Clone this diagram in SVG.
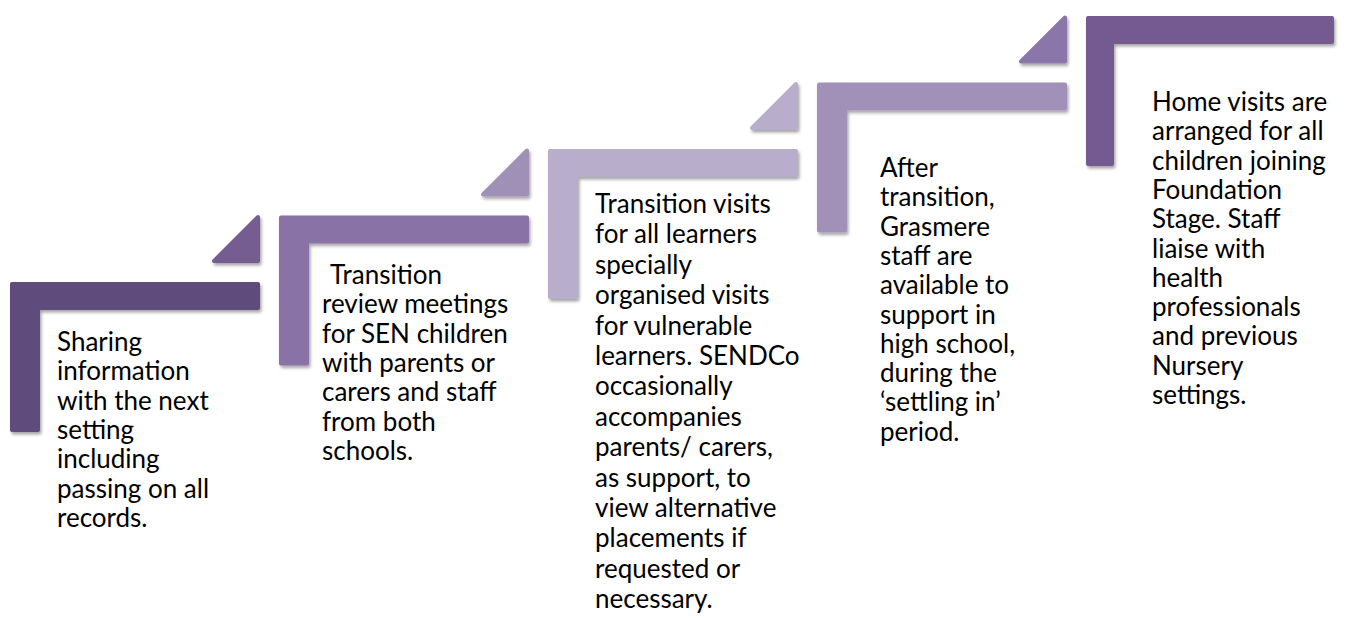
<svg xmlns="http://www.w3.org/2000/svg" width="1350" height="619" viewBox="0 0 1350 619">
<defs>
<filter id="sh" x="-10%" y="-10%" width="130%" height="130%">
<feDropShadow dx="1.5" dy="2.5" stdDeviation="1.6" flood-color="#000" flood-opacity="0.35"/>
</filter>
<style>
.shape{stroke-width:4;stroke-linejoin:round;filter:url(#sh)}
.c1{fill:#5F4B7B;stroke:#5F4B7B}
.c1t{fill:#745C91;stroke:#745C91}
.c2{fill:#8872A6;stroke:#8872A6}
.c2t{fill:#A090B8;stroke:#A090B8}
.c3{fill:#B8ADCA;stroke:#B8ADCA}
.c3t{fill:#B8ADCA;stroke:#B8ADCA}
.c4{fill:#A191B9;stroke:#A191B9}
.c4t{fill:#8A76A8;stroke:#8A76A8}
.c5{fill:#745A91;stroke:#745A91}
text{font-family:Lato,"Liberation Sans",sans-serif;font-size:26px;fill:#000}
</style>
</defs>
<rect width="1350" height="619" fill="#fff"/>

<g id="step1">
<path class="shape c1" d="M12,284 H258 V308 H38 V430 H12 Z"/>
<path class="shape c1t" d="M258,217 V261 H214 Z"/>
<text x="57" y="351">
<tspan x="57">Sharing</tspan>
<tspan x="57" dy="29.3">information</tspan>
<tspan x="57" dy="29.3">with the next</tspan>
<tspan x="57" dy="29.3">setting</tspan>
<tspan x="57" dy="29.3">including</tspan>
<tspan x="57" dy="29.3">passing on all</tspan>
<tspan x="57" dy="29.3">records.</tspan>
</text>
</g>

<g id="step2">
<path class="shape c2" d="M281,217.5 H527 V241.5 H307 V363.5 H281 Z"/>
<path class="shape c2t" d="M527,150.5 V194.5 H483 Z"/>
<text x="322" y="284">
<tspan x="330">Transition</tspan>
<tspan x="322" dy="29.3">review meetings</tspan>
<tspan x="322" dy="29.3">for SEN children</tspan>
<tspan x="322" dy="29.3">with parents or</tspan>
<tspan x="322" dy="29.3">carers and staff</tspan>
<tspan x="322" dy="29.3">from both</tspan>
<tspan x="322" dy="29.3">schools.</tspan>
</text>
</g>

<g id="step3">
<path class="shape c3" d="M550,151 H796 V175 H576 V297 H550 Z"/>
<path class="shape c3t" d="M796,84 V128 H752 Z"/>
<text x="595" y="213">
<tspan x="595">Transition visits</tspan>
<tspan x="595" dy="30.4">for all learners</tspan>
<tspan x="595" dy="30.4">specially</tspan>
<tspan x="595" dy="30.4">organised visits</tspan>
<tspan x="595" dy="30.4">for vulnerable</tspan>
<tspan x="595" dy="30.4">learners. SENDCo</tspan>
<tspan x="595" dy="30.4">occasionally</tspan>
<tspan x="595" dy="30.4">accompanies</tspan>
<tspan x="595" dy="30.4">parents/ carers,</tspan>
<tspan x="595" dy="30.4">as support, to</tspan>
<tspan x="595" dy="30.4">view alternative</tspan>
<tspan x="595" dy="30.4">placements if</tspan>
<tspan x="595" dy="30.4">requested or</tspan>
<tspan x="595" dy="30.4">necessary.</tspan>
</text>
</g>

<g id="step4">
<path class="shape c4" d="M819,84.5 H1065 V108.5 H845 V230.5 H819 Z"/>
<path class="shape c4t" d="M1065,17.5 V61.5 H1021 Z"/>
<text x="880" y="177">
<tspan x="880">After</tspan>
<tspan x="880" dy="29.3">transition,</tspan>
<tspan x="880" dy="29.3">Grasmere</tspan>
<tspan x="880" dy="29.3">staff are</tspan>
<tspan x="880" dy="29.3">available to</tspan>
<tspan x="880" dy="29.3">support in</tspan>
<tspan x="880" dy="29.3">high school,</tspan>
<tspan x="880" dy="29.3">during the</tspan>
<tspan x="880" dy="29.3">‘settling in’</tspan>
<tspan x="880" dy="29.3">period.</tspan>
</text>
</g>

<g id="step5">
<path class="shape c5" d="M1088,18 H1332 V42 H1112 V164 H1088 Z"/>
<text x="1152" y="111">
<tspan x="1152">Home visits are</tspan>
<tspan x="1152" dy="29.3">arranged for all</tspan>
<tspan x="1152" dy="29.3">children joining</tspan>
<tspan x="1152" dy="29.3">Foundation</tspan>
<tspan x="1152" dy="29.3">Stage. Staff</tspan>
<tspan x="1152" dy="29.3">liaise with</tspan>
<tspan x="1152" dy="29.3">health</tspan>
<tspan x="1152" dy="29.3">professionals</tspan>
<tspan x="1152" dy="29.3">and previous</tspan>
<tspan x="1152" dy="29.3">Nursery</tspan>
<tspan x="1152" dy="29.3">settings.</tspan>
</text>
</g>
</svg>
